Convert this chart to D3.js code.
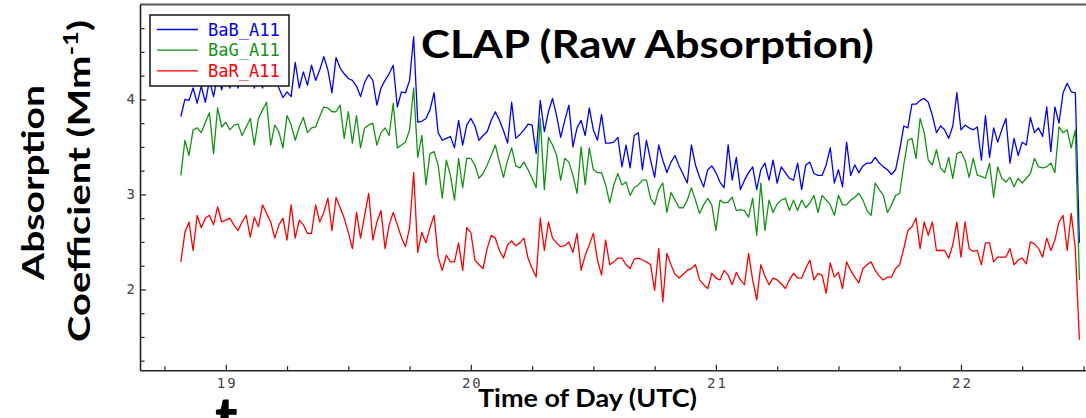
<!DOCTYPE html>
<html>
<head>
<meta charset="utf-8">
<script src="https://cdn.jsdelivr.net/npm/d3@7"></script>
<style>
  html, body { margin: 0; padding: 0; background: #fff; overflow: hidden; }
  svg { display: block; }
</style>
</head>
<body>
<svg id="chart" width="1086" height="418"></svg>
<script>
// CLAP raw absorption coefficients, one-minute averages starting 18:49 UTC
const seriesNames = ["BaB_A11", "BaG_A11", "BaR_A11"];
const seriesColors = ["#0000ff", "#129412", "#ff0000"];
const startHour = 18 + 49 / 60;
const stepHours = 1 / 60;

const babValues = [
  3.82,4.00,3.99,4.12,3.96,4.14,3.97,4.20,4.03,4.25,
  4.10,4.29,4.12,4.27,4.12,4.25,4.14,4.31,4.12,4.27,
  4.12,4.29,4.14,4.22,4.12,4.02,4.08,4.03,4.39,4.12,
  4.29,4.15,4.36,4.20,4.31,4.45,4.31,4.07,4.44,4.33,
  4.27,4.22,4.20,4.14,4.03,4.18,4.26,4.20,3.94,4.12,
  4.20,4.27,4.36,3.92,4.08,4.07,4.20,4.66,3.76,3.77,
  3.80,3.89,4.07,3.65,3.57,3.59,3.61,3.49,3.78,3.52,
  3.73,3.80,3.72,3.57,3.62,3.66,3.78,3.87,3.78,3.67,
  3.54,3.97,3.59,3.63,3.68,3.74,3.73,3.43,3.99,3.66,
  3.87,4.01,3.83,3.60,3.78,3.94,3.50,3.70,3.78,3.62,
  3.91,3.68,3.57,3.84,3.54,3.54,3.55,3.60,3.29,3.52,
  3.28,3.62,3.65,3.26,3.57,3.36,3.18,3.52,3.36,3.23,
  3.34,3.41,3.30,3.21,3.12,3.52,3.31,3.18,3.08,3.26,
  3.30,3.23,3.13,3.07,3.52,3.15,3.39,3.05,3.15,3.23,
  3.29,3.05,3.26,3.33,3.15,3.36,3.12,3.29,3.23,3.17,
  3.15,3.33,3.05,3.31,3.34,3.22,3.20,3.20,3.31,3.49,
  3.12,3.26,3.08,3.55,3.20,3.31,3.23,3.30,3.33,3.33,
  3.39,3.33,3.29,3.26,3.21,3.26,3.47,3.72,3.70,3.95,
  3.95,3.99,4.01,3.97,3.83,3.65,3.72,3.68,3.59,3.72,
  4.07,3.68,3.73,3.70,3.68,3.71,3.36,3.83,3.39,3.70,
  3.55,3.68,3.80,3.33,3.59,3.41,3.55,3.52,3.81,3.65,
  3.70,3.61,3.92,3.45,3.92,3.75,4.07,4.17,4.08,4.07,
  2.49
];

const bagValues = [
  3.20,3.57,3.41,3.68,3.70,3.65,3.76,3.86,3.43,3.91,
  3.71,3.76,3.68,3.73,3.74,3.62,3.71,3.80,3.52,3.80,
  3.89,3.97,3.52,3.73,3.66,3.49,3.83,3.73,3.57,3.71,
  3.81,3.65,3.70,3.71,3.82,3.92,3.91,3.87,3.87,3.94,
  3.59,3.87,3.54,3.83,3.49,3.70,3.73,3.75,3.52,3.65,
  3.70,3.62,3.96,3.49,3.52,3.55,3.68,4.12,3.39,3.62,
  3.10,3.43,3.45,3.31,2.96,3.36,3.20,2.94,3.38,3.07,
  3.38,3.38,3.31,3.17,3.22,3.31,3.41,3.52,3.34,3.18,
  3.36,3.49,3.30,3.28,3.34,3.26,3.17,3.07,3.80,3.05,
  3.60,3.52,3.41,3.15,3.38,3.34,3.20,3.01,3.50,3.10,
  3.49,3.26,3.23,3.23,3.10,2.91,3.10,3.22,3.10,3.13,
  2.99,3.07,3.10,3.15,3.15,2.96,2.89,3.05,3.12,2.81,
  3.02,2.94,2.86,2.86,2.94,3.07,2.94,2.80,2.89,2.96,
  2.89,2.62,2.94,2.91,2.92,2.97,2.83,2.84,2.83,2.76,
  2.96,2.57,3.12,2.62,2.94,2.81,2.90,2.94,2.96,2.83,
  2.94,2.83,2.94,2.86,2.91,2.99,2.81,2.99,2.94,2.89,
  2.78,2.99,2.89,2.89,2.94,2.97,3.01,2.94,2.83,2.78,
  3.12,3.05,2.99,2.81,2.89,2.99,3.01,3.31,3.57,3.59,
  3.38,3.80,3.65,3.36,3.31,3.47,3.28,3.23,3.39,3.17,
  3.43,3.45,3.36,3.18,3.38,3.20,3.19,3.17,3.33,2.97,
  3.29,3.17,3.13,3.18,3.08,3.17,3.12,3.17,3.22,3.38,
  3.29,3.28,3.29,3.33,3.23,3.71,3.65,3.68,3.49,3.68,
  2.10
];

const barValues = [
  2.29,2.60,2.71,2.41,2.78,2.65,2.75,2.78,2.68,2.87,
  2.71,2.73,2.75,2.68,2.62,2.71,2.78,2.55,2.76,2.66,
  2.89,2.80,2.71,2.54,2.68,2.75,2.52,2.89,2.54,2.73,
  2.68,2.59,2.59,2.89,2.71,2.81,2.96,2.62,2.97,2.86,
  2.75,2.60,2.43,2.81,2.54,2.78,3.01,2.52,2.71,2.83,
  2.43,2.68,2.81,2.68,2.55,2.45,2.65,3.23,2.39,2.60,
  2.49,2.65,2.78,2.34,2.20,2.36,2.29,2.29,2.49,2.20,
  2.65,2.60,2.31,2.26,2.22,2.43,2.57,2.54,2.41,2.33,
  2.47,2.51,2.46,2.49,2.54,2.33,2.22,2.13,2.75,2.41,
  2.71,2.54,2.49,2.45,2.46,2.50,2.39,2.59,2.20,2.36,
  2.47,2.59,2.31,2.15,2.52,2.26,2.29,2.33,2.33,2.26,
  2.22,2.32,2.33,2.31,2.29,2.26,1.99,2.43,1.87,2.38,
  2.26,2.16,2.12,2.16,2.20,2.22,2.26,2.10,2.05,2.01,
  2.17,2.12,2.10,2.20,2.15,2.05,2.18,2.10,2.05,2.38,
  2.10,1.89,2.26,2.14,2.05,2.12,2.10,2.06,2.01,2.10,
  2.17,2.12,2.12,2.22,2.31,2.10,2.17,2.15,1.96,2.28,
  2.13,2.18,2.01,2.29,2.20,2.13,2.07,2.22,2.26,2.29,
  2.20,2.14,2.10,2.13,2.13,2.22,2.26,2.43,2.62,2.66,
  2.75,2.43,2.71,2.57,2.71,2.41,2.41,2.41,2.33,2.47,
  2.71,2.34,2.71,2.43,2.40,2.41,2.26,2.49,2.49,2.29,
  2.34,2.34,2.34,2.43,2.26,2.31,2.33,2.27,2.50,2.48,
  2.43,2.34,2.54,2.41,2.52,2.71,2.78,2.41,2.80,2.43,
  1.47
];

const xTickValues = [19, 20, 21, 22];
const xMinorTicks = [18.75, 19.25, 19.5, 19.75, 20.25, 20.5, 20.75, 21.25, 21.5, 21.75, 22.25, 22.5];
const yTickValues = [2, 3, 4];
const yMinorTicks = [1.25, 1.5, 1.75, 2.25, 2.5, 2.75, 3.25, 3.5, 3.75, 4.25, 4.5, 4.75];

const titleText = "CLAP (Raw Absorption)";
const xTitleText = "Time of Day (UTC)";

const svg = d3.select("#chart");
const W = 1086, H = 418;
const plot = { left: 140, right: 1108, top: 4.4, bottom: 370.2 };

const x = d3.scaleLinear().domain([18.65, 22.6]).range([plot.left, plot.right]);
const y = d3.scaleLinear().domain([1.15, 5.0]).range([plot.bottom, plot.top]);

const series = [babValues, bagValues, barValues].map((vals, k) => ({
  name: seriesNames[k],
  color: seriesColors[k],
  points: vals.map((v, i) => ({ t: startHour + i * stepHours, v }))
}));

svg.append("defs").append("clipPath").attr("id", "plotClip")
  .append("rect")
  .attr("x", plot.left).attr("y", plot.top)
  .attr("width", plot.right - plot.left).attr("height", plot.bottom - plot.top);

// frame top edge
svg.append("line")
  .attr("x1", plot.left).attr("x2", W)
  .attr("y1", plot.top).attr("y2", plot.top)
  .attr("stroke", "#555").attr("stroke-width", 2);

// data lines
const line = d3.line().x(d => x(d.t)).y(d => y(d.v));
svg.append("g").attr("clip-path", "url(#plotClip)")
  .selectAll("path").data(series).join("path")
  .attr("d", d => line(d.points))
  .attr("fill", "none")
  .attr("stroke", d => d.color)
  .attr("stroke-width", 1.3)
  .attr("stroke-linejoin", "round");

// axes
const tickFont = "'DejaVu Sans Mono', monospace";
function styleAxis(g) {
  g.select(".domain").attr("stroke", "#222").attr("stroke-width", 1.6);
  g.selectAll(".tick line").attr("stroke", "#222").attr("stroke-width", 1.2);
  g.selectAll(".tick text")
    .attr("fill", "#444")
    .style("font-family", tickFont)
    .style("font-size", "14px");
}

const yAxis = svg.append("g").attr("transform", `translate(${plot.left},0)`)
  .call(d3.axisLeft(y).tickValues(yTickValues).tickFormat(d3.format("d"))
    .tickSizeInner(-6).tickSizeOuter(0).tickPadding(5));
styleAxis(yAxis);

svg.append("g").attr("transform", `translate(${plot.left},0)`)
  .call(d3.axisLeft(y).tickValues(yMinorTicks).tickFormat("")
    .tickSizeInner(-4.5).tickSizeOuter(0))
  .call(g => g.select(".domain").remove())
  .call(g => g.selectAll(".tick line").attr("stroke", "#222").attr("stroke-width", 1.2));

const xAxis = svg.append("g").attr("transform", `translate(0,${plot.bottom})`)
  .call(d3.axisBottom(x).tickValues(xTickValues).tickFormat(d3.format("d"))
    .tickSizeInner(-5.5).tickSizeOuter(0).tickPadding(8));
styleAxis(xAxis);
xAxis.selectAll(".tick text").style("letter-spacing", "2px").attr("dx", "1px");

svg.append("g").attr("transform", `translate(0,${plot.bottom})`)
  .call(d3.axisBottom(x).tickValues(xMinorTicks).tickFormat("")
    .tickSizeInner(-4).tickSizeOuter(0))
  .call(g => g.select(".domain").remove())
  .call(g => g.selectAll(".tick line").attr("stroke", "#222").attr("stroke-width", 1.2));

// horizontal stretch factor that brings a text to a given length
function fitText(sel, target) {
  const len = sel.node().getComputedTextLength();
  return target / len;
}

const boldFont = "Lato, 'Open Sans', sans-serif";

// chart title
const title = svg.append("text")
  .attr("x", 0).attr("y", 0)
  .style("font-family", boldFont).style("font-weight", "bold").style("font-size", "39px")
  .attr("fill", "#000").text(titleText);
title.attr("transform", `translate(421,58) scale(${fitText(title, 453)},1)`);

// x axis title
const xTitle = svg.append("text")
  .attr("x", 0).attr("y", 0)
  .style("font-family", boldFont).style("font-weight", "bold").style("font-size", "24px")
  .attr("fill", "#000").text(xTitleText);
xTitle.attr("transform", `translate(478,406.5) scale(${fitText(xTitle, 219)},1)`);

// y axis title, two rotated lines
const yTitle1 = svg.append("text")
  .attr("text-anchor", "middle")
  .style("font-family", boldFont).style("font-weight", "bold").style("font-size", "31px")
  .attr("fill", "#000").text("Absorption");
yTitle1.attr("transform", `translate(43.5,182.5) rotate(-90) scale(${fitText(yTitle1, 195)},1)`);

const yTitle2 = svg.append("text")
  .attr("text-anchor", "middle")
  .style("font-family", boldFont).style("font-weight", "bold").style("font-size", "31px")
  .attr("fill", "#000");
yTitle2.append("tspan").text("Coefficient (Mm");
yTitle2.append("tspan").attr("dy", -12).style("font-size", "20px").text("-1");
yTitle2.append("tspan").attr("dy", 12).text(")");
yTitle2.attr("transform", `translate(89.5,181) rotate(-90) scale(${fitText(yTitle2, 322)},1)`);

// lower caption, cut off by the bottom edge
svg.append("text")
  .attr("x", 215).attr("y", 441)
  .style("font-family", boldFont).style("font-weight", "900").style("font-size", "60px")
  .attr("fill", "#000").text("t");

// legend
const legend = svg.append("g");
legend.append("rect")
  .attr("x", 150).attr("y", 15).attr("width", 139).attr("height", 71)
  .attr("fill", "#fff").attr("stroke", "#222").attr("stroke-width", 1.6);
const rows = legend.selectAll("g.row").data(series).join("g")
  .attr("class", "row")
  .attr("transform", (d, i) => `translate(0,${29.5 + i * 20.7})`);
rows.append("line")
  .attr("x1", 157).attr("x2", 198)
  .attr("stroke", d => d.color).attr("stroke-width", 1.3);
rows.append("text")
  .attr("x", 208).attr("y", 6)
  .style("font-family", tickFont).style("font-size", "17px")
  .attr("fill", d => d.color)
  .text(d => d.name);
</script>
</body>
</html>
